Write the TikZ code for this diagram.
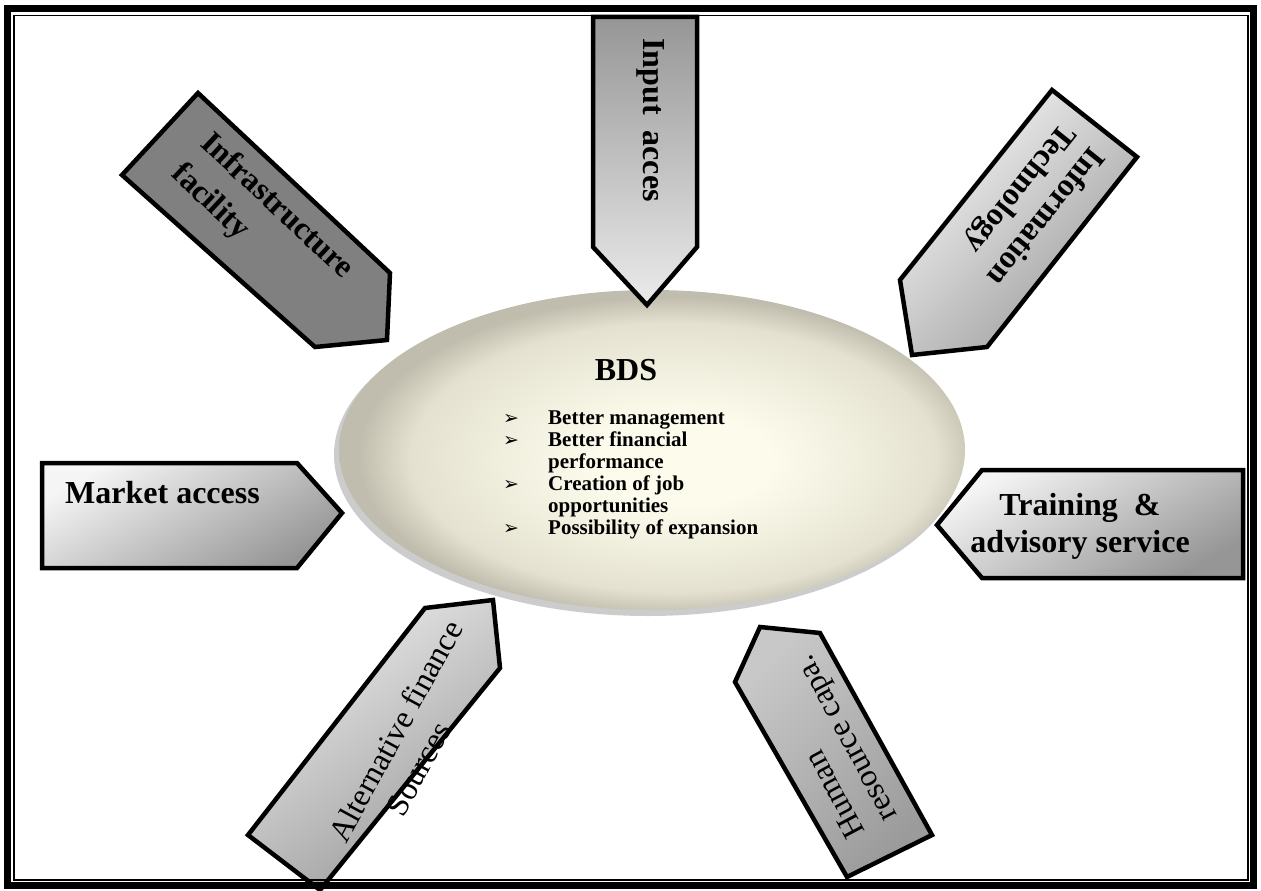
\documentclass[tikz,border=0pt]{standalone}
\usepackage{fontspec}
\setmainfont{Liberation Serif}
\newfontfamily\dejavu{DejaVu Sans}
\usetikzlibrary{shapes.geometric}
\definecolor{g128}{RGB}{128,128,128}
\definecolor{g150}{RGB}{150,150,150}
\definecolor{g155}{RGB}{155,155,155}
\definecolor{g160}{RGB}{160,160,160}
\definecolor{g200}{RGB}{200,200,200}
\definecolor{g235}{RGB}{235,235,235}
\definecolor{g245}{RGB}{245,245,245}
\definecolor{ellin}{RGB}{253,252,236}
\definecolor{ellmid}{RGB}{228,225,208}
\definecolor{ellout}{RGB}{192,189,174}
\pgfdeclareradialshading{ellshade}{\pgfpoint{3bp}{-2bp}}{color(0bp)=(ellin); color(7bp)=(ellin); color(21bp)=(ellmid); color(25bp)=(ellout); color(50bp)=(ellout)}
\newcommand{\bul}{\makebox[45pt][l]{{\dejavu\fontsize{19}{19}\selectfont ➢}}}
\begin{document}
\begin{tikzpicture}[x=1pt,y=-1pt,
  arrowshape/.style={draw=black, line width=4.5pt, line join=miter},
  lbl/.style={font=\fontsize{32}{37}\selectfont\bfseries, inner sep=0pt},
  lblr/.style={font=\fontsize{32}{38}\selectfont, inner sep=0pt},
  listtext/.style={font=\fontsize{21}{22}\selectfont\bfseries, inner sep=0pt, align=left},
]
\useasboundingbox (0,0) rectangle (1261,891);
\fill[white] (0,0) rectangle (1261,891);

% central ellipse with shadow
\fill[black!50, opacity=0.4] (648,455) ellipse [x radius=314, y radius=161];
\node[ellipse, shading=ellshade, minimum width=626pt, minimum height=320pt, inner sep=0pt] (ell) at (652,450) {};

% arrow shapes
\draw[arrowshape, top color=g150, middle color=g155, bottom color=g235]
  (593,17) -- (697,17) -- (697,247) -- (647,305) -- (593,247) -- cycle;
\draw[arrowshape, fill=g128]
  (198,93) -- (390,273) -- (387,340) -- (315,347) -- (122,175) -- cycle;
\draw[arrowshape, left color=g245, middle color=g160, right color=g155, shading angle=45]
  (1052,90) -- (1137,157) -- (987,347) -- (912,355) -- (900,280) -- cycle;
\draw[arrowshape, left color=g245, middle color=g155, right color=g150, shading angle=30]
  (42,463) -- (297,463) -- (342,513) -- (297,568) -- (42,568) -- cycle;
\draw[arrowshape, left color=g245, middle color=g155, right color=g150, shading angle=30]
  (982,470) -- (1243,470) -- (1243,578) -- (982,578) -- (937,525) -- cycle;
\draw[arrowshape, left color=g235, middle color=g160, right color=g155, shading angle=35]
  (425,608) -- (493,600) -- (500,668) -- (320,890) -- (248,835) -- cycle;
\draw[arrowshape, left color=g200, middle color=g155, right color=g155, shading angle=45]
  (760,627) -- (820,633) -- (932,835) -- (847,877) -- (735,682) -- cycle;

% labels
\node[lbl, rotate=-90] (input) at (651,120) {Input\ \ acces};
\node[lbl, font=\fontsize{32}{42}\selectfont\bfseries, rotate=-43, align=left] (infra) at (262,222) {Infrastructure\\facility};
\node[lbl, rotate=-128.7, align=left] (itech) at (1030,204) {Information\\Technology};
\node[lbl, anchor=base west] (market) at (65,503) {Market access};
\node[lbl, align=center, anchor=base] (train) at (1080,552) {Training\ \ \&\\advisory service};
\node[lblr, font=\fontsize{32}{36}\selectfont, rotate=118, align=left] (human) at (832,746) {Human\\resource capa.};
\node[lblr, rotate=61.5, align=center] (alt) at (412,740) {Alternative finance\\Sources\hspace*{44pt}};

% ellipse text
\node[lbl, anchor=base] (bds) at (626,380) {BDS};
\node[listtext, anchor=base west] (list) at (503,534)
  {\bul Better management\\
   \bul Better financial\\
   \hspace*{45pt}performance\\
   \bul Creation of job\\
   \hspace*{45pt}opportunities\\
   \bul Possibility of expansion};

% frame
\draw[line width=7pt] (7.5,8.5) rectangle (1253.5,885.5);
\draw[line width=1.8pt] (14.3,15.5) rectangle (1248,880);
\end{tikzpicture}
\end{document}
